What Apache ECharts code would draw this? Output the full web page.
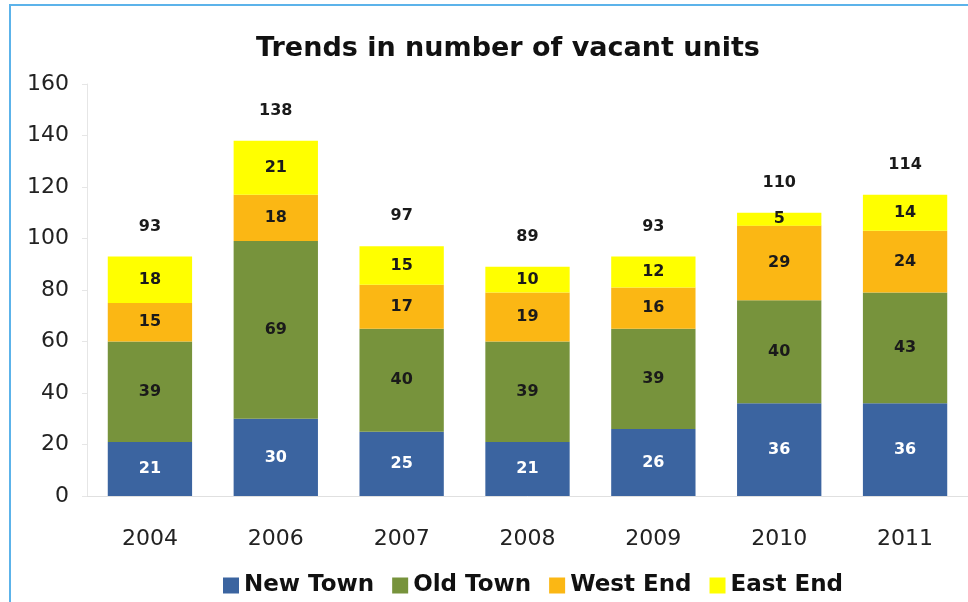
<!DOCTYPE html>
<html>
<head>
<meta charset="utf-8">
<script src="https://cdn.jsdelivr.net/npm/echarts@6/dist/echarts.min.js"></script>
<style>
    html, body { margin: 0; padding: 0; background: #fff; }
    #frame { position: absolute; left: 9px; top: 4px; width: 970px; height: 610px;
        border-left: 2px solid #5cb3ea; border-top: 2px solid #5cb3ea; }
    #chart { position: absolute; left: 0; top: 0; width: 968px; height: 602px; }
</style>
</head>
<body>
<div id="frame"></div>
<div id="chart"></div>
<script>
// data
const years = ['2004', '2006', '2007', '2008', '2009', '2010', '2011']
const newTown = [21, 30, 25, 21, 26, 36, 36]
const oldTown = [39, 69, 40, 39, 39, 40, 43]
const westEnd = [15, 18, 17, 19, 16, 29, 24]
const eastEnd = [18, 21, 15, 10, 12, 5, 14]
const totals = [93, 138, 97, 89, 93, 110, 114]
const yTicks = [0, 20, 40, 60, 80, 100, 120, 140, 160]

const chart = echarts.init(document.getElementById('chart'))

const font = 'DejaVu Sans, Arial, sans-serif'
function barSeries (name, data, color, labelColor) {
    return {
        name: name,
        type: 'bar',
        stack: 'units',
        barWidth: '67%',
        data: data,
        itemStyle: { color: color },
        label: {
            show: true,
            position: 'inside',
            color: labelColor,
            fontFamily: font,
            fontWeight: 'bold',
            fontSize: 16
        }
    }
}

let series = [
    barSeries('New Town', newTown, '#3b64a0', '#ffffff'),
    barSeries('Old Town', oldTown, '#77933c', '#1a1a1a'),
    barSeries('West End', westEnd, '#fbb714', '#1a1a1a'),
    barSeries('East End', eastEnd, '#ffff00', '#1a1a1a')
]
// totals above the stacks (empty bar on top, label only)
series.push({
    name: 'Total',
    type: 'bar',
    stack: 'units',
    barWidth: '67%',
    data: years.map(() => 0),
    itemStyle: { color: 'transparent' },
    label: {
        show: true,
        position: 'top',
        distance: 22,
        color: '#1a1a1a',
        fontFamily: font,
        fontWeight: 'bold',
        fontSize: 16,
        formatter: p => totals[p.dataIndex]
    },
    silent: true
})

chart.setOption({
    animation: false,
    title: {
        text: 'Trends in number of vacant units',
        left: 503,
        textAlign: 'center',
        top: 30,
        textStyle: { fontFamily: font, fontWeight: 'bold', fontSize: 27, color: '#111' }
    },
    legend: {
        data: ['New Town', 'Old Town', 'West End', 'East End'],
        left: 218,
        top: 569,
        icon: 'rect',
        itemWidth: 16,
        itemHeight: 16,
        itemGap: 18,
        textStyle: { fontFamily: font, fontWeight: 'bold', fontSize: 23, color: '#111' }
    },
    grid: { left: 87, top: 84, width: 892, height: 412 },
    xAxis: {
        type: 'category',
        data: years,
        axisLine: { lineStyle: { color: '#e0e0e0' } },
        axisTick: { show: false },
        axisLabel: { fontFamily: font, fontSize: 22, color: '#222', margin: 32 }
    },
    yAxis: {
        type: 'value',
        min: yTicks[0],
        max: yTicks[yTicks.length - 1],
        interval: 20,
        axisLine: { show: true, lineStyle: { color: '#e6e6e6' } },
        axisTick: { show: true, length: 5, lineStyle: { color: '#e6e6e6' } },
        splitLine: { show: false },
        axisLabel: { fontFamily: font, fontSize: 22, color: '#222', margin: 18 }
    },
    series: series
})
</script>
</body>
</html>
